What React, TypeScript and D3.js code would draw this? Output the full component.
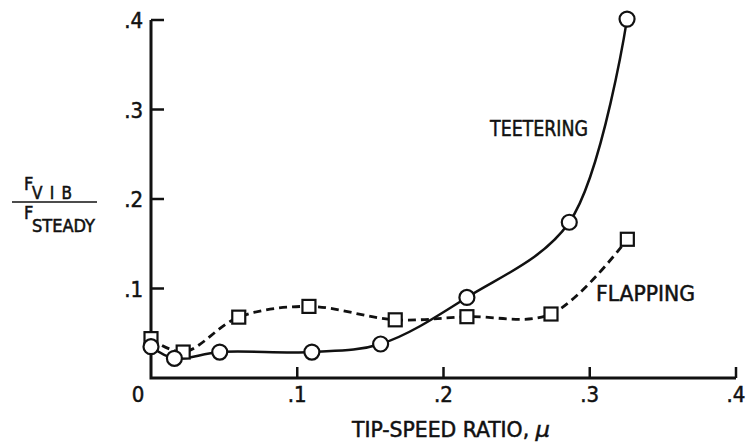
import React from "react";
import * as d3 from "d3";

const teeteringMu = [0.0, 0.016, 0.047, 0.11, 0.157, 0.216, 0.286, 0.3255];
const teeteringF = [0.035, 0.022, 0.029, 0.029, 0.038, 0.09, 0.174, 0.401];
const flappingMu = [0.0, 0.022, 0.06, 0.108, 0.167, 0.216, 0.2735, 0.3257];
const flappingF = [0.044, 0.029, 0.068, 0.08, 0.065, 0.0685, 0.0715, 0.155];
const xTicks = [0.1, 0.2, 0.3, 0.4];
const yTicks = [0.1, 0.2, 0.3, 0.4];
const fmt = (v: number) => (v === 0 ? "0" : "." + Math.round(v * 10));

const FONT = "'Liberation Sans Narrow', 'DejaVu Sans Condensed', 'Liberation Sans', Arial, sans-serif";

export default function App() {
  const W = 746, H = 443;
  const x = d3.scaleLinear().domain([0, 0.4]).range([151, 736]);
  const y = d3.scaleLinear().domain([0, 0.4]).range([378, 20]);
  const line = d3
    .line<[number, number]>()
    .x((d) => x(d[0]))
    .y((d) => y(d[1]))
    .curve(d3.curveCatmullRom.alpha(0.5));
  const tData = teeteringMu.map((m, i) => [m, teeteringF[i]] as [number, number]);
  const fData = flappingMu.map((m, i) => [m, flappingF[i]] as [number, number]);
  const ink = "#111";
  const sq = 13;
  const ts = { stroke: ink, strokeWidth: 0.5 };
  return (
    <svg width={W} height={H} style={{ position: "absolute", left: 0, top: 0, background: "#fff" }}>
      <rect width={W} height={H} fill="#fff" />
      {/* axes */}
      <path
        d={`M${x(0)},${y(0.4)} L${x(0)},${y(0)} L${x(0.4)},${y(0)}`}
        fill="none"
        stroke={ink}
        strokeWidth={3}
      />
      {yTicks.map((t) => (
        <g key={"y" + t}>
          <line x1={x(0)} x2={x(0) + 13} y1={y(t)} y2={y(t)} stroke={ink} strokeWidth={2.5} />
          <text x={143} y={y(t) + 8} textAnchor="end" fontFamily={FONT} fontSize={22} fill={ink} {...ts}>
            {fmt(t)}
          </text>
        </g>
      ))}
      {xTicks.map((t) => (
        <g key={"x" + t}>
          <line x1={x(t)} x2={x(t)} y1={y(0)} y2={y(0) - 11} stroke={ink} strokeWidth={2.5} />
          <text x={x(t)} y={402} textAnchor="middle" fontFamily={FONT} fontSize={22} fill={ink} {...ts}>
            {fmt(t)}
          </text>
        </g>
      ))}
      <text x={x(0) - 13} y={402} textAnchor="middle" fontFamily={FONT} fontSize={22} fill={ink} {...ts}>
        {fmt(0)}
      </text>
      {/* axis titles */}
      <text x={352} y={437} fontFamily={FONT} fontSize={22} fill={ink} textLength={198} lengthAdjust="spacingAndGlyphs" {...ts}>
        TIP-SPEED RATIO, <tspan fontStyle="italic" fontFamily="'DejaVu Sans', sans-serif">μ</tspan>
      </text>
      <g fontFamily={FONT} fill={ink} {...ts}>
        <text x={24} y={190} fontSize={18}>F</text>
        <text x={32} y={199} fontSize={17} textLength={40} lengthAdjust="spacing">VIB</text>
        <text x={24} y={219} fontSize={18}>F</text>
        <text x={32} y={232} fontSize={17} textLength={63} lengthAdjust="spacingAndGlyphs">STEADY</text>
      </g>
      <line x1={12} x2={97} y1={202} y2={202} stroke={ink} strokeWidth={1.5} />
      {/* curves */}
      <path d={line(fData) || ""} fill="none" stroke={ink} strokeWidth={2.8} strokeDasharray="8 5" />
      <path d={line(tData) || ""} fill="none" stroke={ink} strokeWidth={2.5} />
      {fData.map((d, i) => (
        <rect
          key={"f" + i}
          x={x(d[0]) - sq / 2}
          y={y(d[1]) - sq / 2}
          width={sq}
          height={sq}
          fill="#fff"
          stroke={ink}
          strokeWidth={2.2}
        />
      ))}
      {tData.map((d, i) => (
        <circle key={"t" + i} cx={x(d[0])} cy={y(d[1])} r={7.5} fill="#fff" stroke={ink} strokeWidth={2.2} />
      ))}
      <text x={490} y={136} fontFamily={FONT} fontSize={22} fill={ink} textLength={98} lengthAdjust="spacingAndGlyphs" {...ts}>
        TEETERING
      </text>
      <text x={596} y={301} fontFamily={FONT} fontSize={22} fill={ink} textLength={99} lengthAdjust="spacingAndGlyphs" {...ts}>
        FLAPPING
      </text>
    </svg>
  );
}
